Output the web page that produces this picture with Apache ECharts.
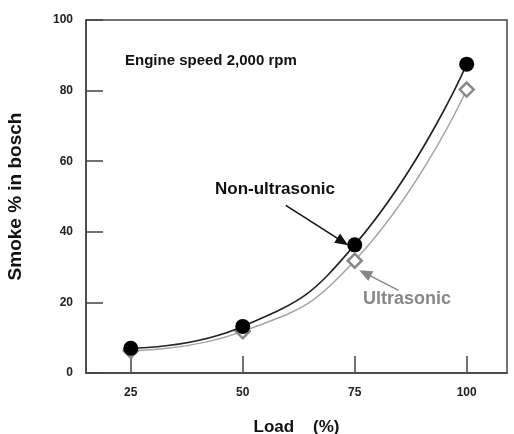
<!DOCTYPE html>
<html>
<head>
<meta charset="utf-8">
<script src="https://cdn.jsdelivr.net/npm/echarts@6/dist/echarts.min.js"></script>
<style>html,body{margin:0;padding:0;background:#fff}#c{width:514px;height:434px}</style>
</head>
<body>
<div id="c"></div>
<script>
var loads = [25, 50, 75, 100];
var nonUltrasonic = [7.0, 13.2, 36.3, 87.5];
var ultrasonic = [6.3, 11.8, 31.8, 80.3];
var xTicks = [25, 50, 75, 100];
var yTicks = [0, 20, 40, 60, 80, 100];

function pairs(xs, ys) { return xs.map(function (x, i) { return [x, ys[i]]; }); }

var chart = echarts.init(document.getElementById('c'));
var font = 'Liberation Sans, Arial, sans-serif';
chart.setOption({
  animation: false,
  grid: { left: 86, right: 7, top: 20, bottom: 61, outerBoundsMode: 'none', containLabel: false, show: true, borderColor: '#444', borderWidth: 1.5, backgroundColor: 'transparent' },
  xAxis: {
    type: 'value', min: 15, max: 109,
    name: 'Load    (%)', nameLocation: 'middle', nameGap: 46,
    nameTextStyle: { fontFamily: font, fontWeight: 'bold', fontSize: 17, color: '#111' },
    axisLine: { show: true, lineStyle: { color: '#444', width: 1.5 } },
    axisTick: { show: true, inside: true, length: 17, customValues: xTicks, lineStyle: { color: '#444', width: 1.5 } },
    axisLabel: { customValues: xTicks, margin: 14, fontFamily: font, fontWeight: 'bold', fontSize: 12, color: '#222' },
    splitLine: { show: false }
  },
  yAxis: {
    type: 'value', min: 0, max: 100,
    name: 'Smoke % in bosch', nameLocation: 'middle', nameGap: 61,
    nameTextStyle: { fontFamily: font, fontWeight: 'bold', fontSize: 19, color: '#111' },
    axisLine: { show: true, lineStyle: { color: '#444', width: 1.5 } },
    axisTick: { show: true, inside: true, length: 17, customValues: yTicks, lineStyle: { color: '#444', width: 1.5 } },
    axisLabel: { customValues: yTicks, margin: 13, fontFamily: font, fontWeight: 'bold', fontSize: 12, color: '#222' },
    splitLine: { show: false }
  },
  series: [
    {
      name: 'Ultrasonic', type: 'line', data: pairs(loads, ultrasonic),
      smooth: 0.5,
      symbol: 'diamond', symbolSize: 14,
      itemStyle: { color: '#fff', borderColor: '#888', borderWidth: 2.5 },
      lineStyle: { color: '#a5a5a5', width: 1.5 },
      z: 2,
      markLine: {
        silent: true, symbol: ['none', 'triangle'], symbolSize: [11, 13],
        lineStyle: { color: '#888', width: 1.5, type: 'solid' },
        label: { show: false },
        data: [[{ coord: [84.8, 23.4] }, { coord: [77.3, 28.3] }]]
      }
    },
    {
      name: 'Non-ultrasonic', type: 'line', data: pairs(loads, nonUltrasonic),
      smooth: 0.5,
      symbol: 'circle', symbolSize: 15,
      itemStyle: { color: '#000' },
      lineStyle: { color: '#222', width: 1.6 },
      z: 3,
      markLine: {
        silent: true, symbol: ['none', 'triangle'], symbolSize: [11, 13],
        lineStyle: { color: '#111', width: 1.5, type: 'solid' },
        label: { show: false },
        data: [[{ coord: [59.6, 47.5] }, { coord: [72.3, 37.2] }]]
      }
    }
  ],
  graphic: [
    { type: 'text', left: 125, top: 53, style: { text: 'Engine speed 2,000 rpm', fontFamily: font, fontWeight: 'bold', fontSize: 15, fill: '#111' } },
    { type: 'text', left: 215, top: 181, style: { text: 'Non-ultrasonic', fontFamily: font, fontWeight: 'bold', fontSize: 17, fill: '#111' } },
    { type: 'text', left: 363, top: 290, style: { text: 'Ultrasonic', fontFamily: font, fontWeight: 'bold', fontSize: 18, fill: '#888' } }
  ]
});
</script>
</body>
</html>
